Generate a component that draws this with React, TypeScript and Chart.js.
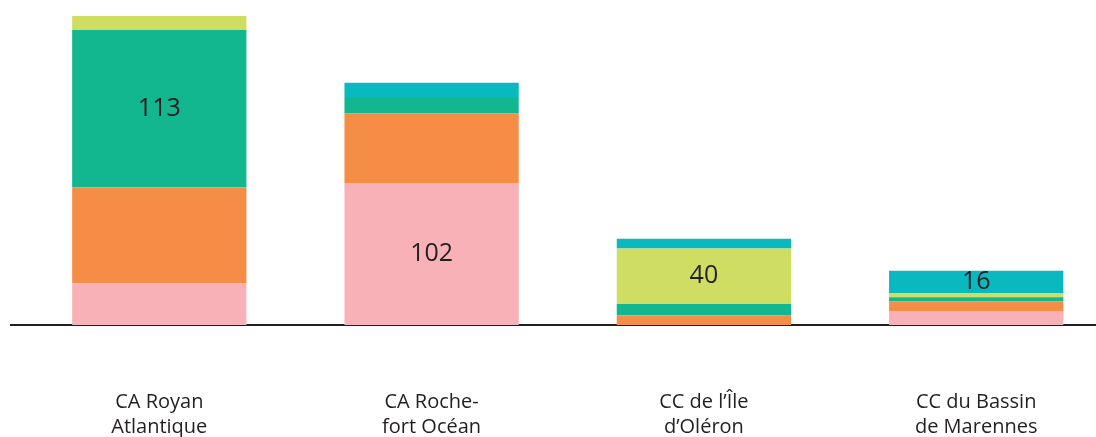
import { useEffect, useRef } from 'react';
import { Chart, registerables } from 'chart.js';

Chart.register(...registerables);

// Categories (two-line labels)
const categories: string[][] = [
  ['CA Royan', 'Atlantique'],
  ['CA Roche-', 'fort Océan'],
  ['CC de l’Île', 'd’Oléron'],
  ['CC du Bassin', 'de Marennes'],
];

// Stacked series, bottom to top
const pinkValues = [30, 102, 0, 10];
const orangeValues = [69, 50, 7, 7];
const greenValues = [113, 11, 8, 3];
const yellowValues = [10, 0, 40, 3];
const cyanValues = [0, 11, 7, 16];

const seriesValues = [pinkValues, orangeValues, greenValues, yellowValues, cyanValues];
const seriesNames = ['Série 1', 'Série 2', 'Série 3', 'Série 4', 'Série 5'];
const seriesColors = ['#f7b1b7', '#f68d46', '#12b68f', '#d0dd63', '#0ab9bf'];

// Which series carries the value label in each category
const labelledSeries = [2, 0, 3, 4];

const TEXT = '#231f20';

const segmentLabelPlugin = {
  id: 'segmentLabels',
  afterDatasetsDraw(chart: any) {
    const ctx = chart.ctx;
    ctx.save();
    ctx.font = '25px "Open Sans"';
    ctx.fillStyle = TEXT;
    ctx.textAlign = 'center';
    ctx.textBaseline = 'middle';
    labelledSeries.forEach((ds, i) => {
      const el = chart.getDatasetMeta(ds).data[i];
      if (!el) return;
      const { x, y, base } = el.getProps(['x', 'y', 'base'], true);
      ctx.fillText(String(seriesValues[ds][i]), x, (y + base) / 2);
    });
    ctx.restore();
  },
};

export default function App() {
  const ref = useRef<HTMLCanvasElement | null>(null);

  useEffect(() => {
    if (!ref.current) return;
    Chart.defaults.font.family = '"Open Sans", sans-serif';
    const chart = new Chart(ref.current, {
      type: 'bar',
      data: {
        datasets: seriesValues.map((vals, s) => ({
          label: seriesNames[s],
          data: vals.map((v, i) => ({ x: i, y: v })),
          backgroundColor: seriesColors[s],
          borderWidth: 0,
          categoryPercentage: 1,
          barPercentage: 0.64,
        })),
      },
      options: {
        responsive: false,
        animation: false,
        layout: { padding: { top: 16, left: 11, right: 0, bottom: 0 } },
        plugins: {
          legend: { display: false },
          tooltip: { enabled: false },
        },
        scales: {
          x: {
            type: 'linear',
            stacked: true,
            bounds: 'data',
            min: -0.5446,
            max: 3.44,
            offset: false,
            grid: { display: false, drawTicks: true, tickLength: 60 },
            border: { display: true, color: TEXT, width: 2 },
            afterBuildTicks: (axis: any) => {
              axis.ticks = categories.map((_, i) => ({ value: i }));
            },
            ticks: {
              padding: 5,
              autoSkip: false,
              maxRotation: 0,
              minRotation: 0,
              color: TEXT,
              font: { size: 20, lineHeight: 1.25 },
              callback: (value: any) => categories[Math.round(Number(value))] ?? '',
            },
          },
          y: {
            stacked: true,
            display: false,
            min: 0,
            max: 222,
          },
        },
      },
      plugins: [segmentLabelPlugin],
    } as any);
    return () => chart.destroy();
  }, []);

  return (
    <div
      style={{
        position: 'fixed',
        left: 0,
        top: 0,
        width: 1096,
        height: 437,
        overflow: 'hidden',
        background: '#fff',
      }}
    >
      <canvas ref={ref} width={1096} height={445} style={{ display: 'block' }} />
    </div>
  );
}
